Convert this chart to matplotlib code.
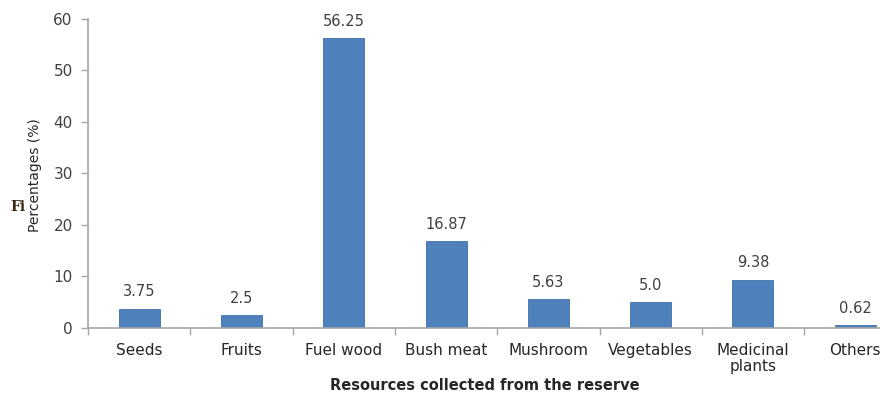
import matplotlib
matplotlib.use("Agg")
import matplotlib.pyplot as plt
import numpy as np

categories = ["Seeds", "Fruits", "Fuel wood", "Bush meat", "Mushroom",
              "Vegetables", "Medicinal\nplants", "Others"]
values = [3.75, 2.5, 56.25, 16.87, 5.63, 5.0, 9.38, 0.62]
value_labels = ["3.75", "2.5", "56.25", "16.87", "5.63", "5.0", "9.38", "0.62"]
y_ticks = [0, 10, 20, 30, 40, 50, 60]

bar_color = "#4F81BD"
axis_color = "#A6A6A6"
text_color = "#404040"

fig = plt.figure(figsize=(8.8, 3.94), dpi=100)
ax = fig.add_axes([0.1, 0.1675, 0.93, 0.785])

x = np.arange(len(categories))
ax.bar(x, values, width=0.4, color=bar_color, edgecolor="#3E6FA8", linewidth=0.6)

for xi, v, lab in zip(x, values, value_labels):
    ax.text(xi, v + 1.8, lab, ha="center", va="bottom", fontsize=10.5, color=text_color)

ax.set_xlim(-0.5, len(categories) - 0.5)
ax.set_ylim(0, 60)
ax.set_yticks(y_ticks)
ax.set_yticklabels([str(t) for t in y_ticks], fontsize=11, color=text_color)

# category labels centred on bars, tick marks between categories
ax.set_xticks(x)
ax.set_xticklabels(categories, fontsize=11, color="#262626", linespacing=1.1)
ax.tick_params(axis="x", length=0, pad=11)
ax.set_xticks(np.arange(-0.5, len(categories), 1.0), minor=True)
ax.tick_params(axis="x", which="minor", length=5, color=axis_color, width=1)
ax.tick_params(axis="y", length=5, color=axis_color, width=1, pad=6)

for side in ["top", "right"]:
    ax.spines[side].set_visible(False)
for side in ["left", "bottom"]:
    ax.spines[side].set_color(axis_color)
    ax.spines[side].set_linewidth(1.2)

fig.text(0.04, 0.555, "Percentages (%)", rotation=90, ha="center", va="center",
         fontsize=10, color="#262626")
fig.text(0.551, 0.022, "Resources collected from the reserve", ha="center", va="center",
         fontsize=10.5, fontweight="bold", color="#262626")
fig.text(0.012, 0.475, "Fi", ha="left", va="center", fontsize=10,
         family="DejaVu Serif", fontweight="bold", color="#3a2a10")

fig.savefig("out.png", dpi=100)
